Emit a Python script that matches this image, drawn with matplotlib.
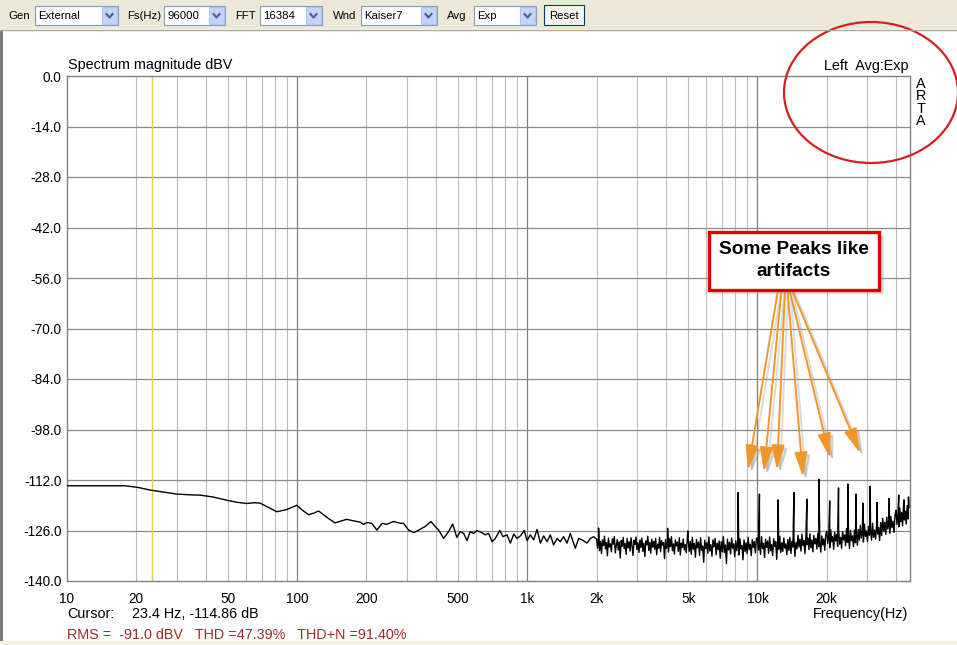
import numpy as np
import matplotlib.pyplot as plt
from matplotlib.patches import Rectangle, Ellipse, FancyArrowPatch
from matplotlib.lines import Line2D

plt.rcParams['font.family'] = ['Liberation Sans', 'DejaVu Sans']

# --- spectrum (Hz, dBV) ---
# smooth low frequency part
smooth_freq = [10, 14, 17.9, 20.5, 23.0, 26, 30.0, 34, 37.9, 43, 49.4, 55, 60.4, 65,
               69.0, 75, 81.6, 90, 99.7, 105, 112, 118, 124, 135, 146, 155, 164, 175, 182]
smooth_db = [-113.6, -113.6, -113.6, -114.1, -114.8, -115.3, -115.9, -116.1, -116.2,
             -116.7, -117.6, -118.2, -118.5, -118.3, -118.4, -119.6, -120.8, -120.2,
             -119.0, -120.3, -121.6, -121.2, -120.6, -122.4, -123.9, -123.4, -122.9,
             -123.3, -123.5]

# wiggly part 190 Hz - 2 kHz
sparse_freq = [188, 194, 201, 211, 222, 234, 245, 262, 281, 290, 305, 321, 337, 360, 381,
               398, 412, 433, 455, 474, 494, 511, 529, 547, 565, 584, 604, 635, 656, 679,
               703, 726, 759, 784, 816, 844, 873, 902, 933, 970, 997, 1031, 1066, 1102,
               1140, 1178, 1218, 1259, 1301, 1346, 1391, 1438, 1487, 1537, 1617, 1672,
               1728, 1818, 1880, 1943]
sparse_db = [-123.7, -124.3, -123.8, -124.0, -125.9, -124.0, -124.3, -123.5, -124.0, -124.0,
             -125.9, -126.6, -125.9, -124.9, -123.5, -124.9, -125.9, -128.2, -126.3, -124.2,
             -127.9, -126.3, -126.8, -128.8, -126.3, -126.8, -126.0, -126.6, -127.2, -126.8,
             -129.1, -128.2, -126.0, -127.7, -127.2, -129.5, -127.0, -128.2, -127.5, -126.0,
             -128.8, -127.2, -128.6, -125.7, -129.5, -127.5, -129.1, -127.2, -130.0, -128.2,
             -129.1, -127.7, -129.5, -126.8, -130.9, -128.2, -128.6, -129.5, -128.2, -127.7]

# dense noise floor above 2 kHz, one value per screen pixel in each band
band_edges = [2000, 5000, 10000, 15000, 20000, 28000, 35000, 40000, 46000]
noise_2k_5k = [
    -128.4, -130.9, -127.9, -131.6, -129.0, -132.4, -128.6, -130.2, -127.6, -131.1,
    -129.3, -133.0, -128.1, -130.6, -129.7, -131.9, -128.3, -129.8, -127.7, -132.2,
    -130.1, -128.5, -131.4, -129.2, -133.6, -128.8, -130.4, -127.9, -131.0, -129.6,
    -132.6, -128.2, -130.8, -129.1, -131.7, -128.0, -130.3, -132.9, -128.7, -129.9,
    -127.8, -131.3, -129.4, -132.1, -128.6, -130.7, -128.1, -131.8, -129.5, -133.2,
    -128.9, -130.0, -127.6, -131.5, -129.3, -132.3, -128.4, -130.6, -129.0, -131.2,
    -128.2, -132.7, -129.8, -130.9, -127.9, -131.9, -128.8, -130.1, -129.4, -133.8,
    -128.5, -131.0, -129.1, -132.0, -128.3, -130.5, -127.7, -131.6, -129.7, -132.5,
    -128.6, -130.3, -129.2, -131.8, -128.0, -132.8, -129.5, -130.7, -128.4, -131.4,
    -129.9, -132.2, -128.7]
noise_5k_10k = [
    -128.3, -131.8, -129.0, -132.6, -127.9, -131.2, -129.6, -133.4, -128.5, -130.8,
    -129.2, -132.9, -128.0, -131.5, -130.3, -134.8, -128.7, -131.0, -129.4, -132.3,
    -127.8, -131.7, -129.9, -133.1, -128.6, -130.5, -128.2, -132.7, -129.5, -131.3,
    -128.9, -133.7, -129.1, -131.9, -127.7, -132.1, -130.0, -135.2, -128.4, -131.4,
    -129.3, -132.5, -128.1, -130.9, -129.7, -133.3, -128.8, -131.6, -129.0, -132.8,
    -128.3, -131.1, -130.2, -134.1, -128.6, -131.8, -129.4, -132.4, -127.9, -131.3,
    -129.8, -133.0, -128.5, -130.7, -129.1, -132.2, -128.2]
noise_10k_15k = [
    -128.0, -131.4, -129.2, -132.6, -127.7, -131.0, -129.6, -133.5, -128.4, -130.7,
    -128.9, -132.3, -127.8, -131.6, -129.9, -132.9, -128.3, -130.4, -129.1, -134.0,
    -128.6, -131.2, -127.6, -132.1, -129.4, -131.8, -128.1, -130.9, -129.7, -132.7,
    -128.5, -131.5, -127.9, -132.4, -129.0, -130.6, -128.2, -133.2, -129.3, -131.1]
noise_15k_20k = [
    -127.3, -130.6, -128.4, -131.7, -127.0, -130.2, -128.8, -132.4, -127.6, -129.9,
    -128.1, -131.3, -126.9, -130.8, -128.6, -131.9, -127.4, -129.7, -128.2, -131.1,
    -126.8, -130.4, -128.9, -132.0, -127.5, -130.0, -128.3, -131.5, -127.1]
noise_20k_28k = [
    -126.2, -129.6, -127.4, -130.8, -125.8, -129.1, -127.7, -131.2, -126.5, -128.9,
    -127.1, -130.4, -125.6, -129.8, -127.9, -130.9, -126.3, -128.6, -127.2, -130.2,
    -125.5, -129.3, -126.8, -131.0, -126.0, -128.8, -127.5, -130.5, -125.9, -129.4,
    -126.6, -130.1, -125.7, -128.7]
noise_28k_35k = [
    -124.6, -128.1, -125.8, -129.2, -124.2, -127.6, -126.1, -129.0, -124.9, -127.3,
    -125.4, -128.7, -124.0, -127.9, -125.9, -128.4, -124.5, -127.0, -125.2, -128.8,
    -123.8, -127.4]
noise_35k_40k = [
    -122.6, -126.2, -123.7, -127.1, -122.3, -125.6, -123.9, -126.8, -122.1, -125.2,
    -123.4, -126.5, -121.8]
noise_40k_46k = [
    -120.4, -124.3, -121.5, -125.0, -119.8, -123.6, -121.0, -124.7, -119.4, -123.1,
    -120.6, -124.2, -119.1, -122.8, -119.6]

# spikes sticking out of the noise floor
peak_freq = [2040, 4070, 4980, 8240, 10200, 12300, 14400, 16400, 18500, 20600, 22500,
             24700, 26800, 28700, 30900, 33100, 37300, 41100, 43300, 45300]
peak_db = [-125.3, -125.4, -126.1, -115.5, -115.9, -117.5, -115.5, -117.3, -111.8, -117.8,
           -114.2, -113.1, -115.9, -118.4, -113.7, -118.2, -117.1, -116.2, -117.5, -116.7]

cursor_hz = 23.4
y_ticks = [-140, -126, -112, -98, -84, -70, -56, -42, -28, -14, 0]
x_ticks = [10, 20, 50, 100, 200, 500, 1000, 2000, 5000, 10000, 20000]
x_tick_labels = ['10', '20', '50', '100', '200', '500', '1k', '2k', '5k', '10k', '20k']

# put the trace together
noise_bands = [noise_2k_5k, noise_5k_10k, noise_10k_15k, noise_15k_20k,
               noise_20k_28k, noise_28k_35k, noise_35k_40k, noise_40k_46k]
freq = list(smooth_freq) + list(sparse_freq) + list(peak_freq)
db = list(smooth_db) + list(sparse_db) + list(peak_db)
for i, vals in enumerate(noise_bands):
    f = np.geomspace(band_edges[i], band_edges[i + 1], len(vals), endpoint=False)
    freq += list(f)
    db += vals
order = np.argsort(freq)
freq = np.array(freq)[order]
db = np.array(db)[order]

W, H = 957, 645
fig = plt.figure(figsize=(W / 100, H / 100), dpi=100)
fig.patch.set_facecolor('white')

TXT = 10.4   # label text size
TICK = 9.8   # tick label size
BAR = 8.2    # toolbar text size


def box(x0, y0, x1, y1, **kw):
    r = Rectangle((x0 / W, 1 - y1 / H), (x1 - x0) / W, (y1 - y0) / H,
                  transform=fig.transFigure, **kw)
    fig.add_artist(r)
    return r


def txt(x, y, s, **kw):
    kw.setdefault('va', 'center')
    return fig.text(x / W, 1 - y / H, s, **kw)


def seg(xs, ys, **kw):
    fig.add_artist(Line2D([x / W for x in xs], [1 - y / H for y in ys],
                          transform=fig.transFigure, **kw))


# window chrome: toolbar on top
box(0, 0, W, 29, facecolor='#ECE9D8', edgecolor='none')
seg([0, W], [29.5, 29.5], color='#ACA899', lw=1)
box(0, 30, 2.5, 641, facecolor='#7A7A7A', edgecolor='none')
box(0, 641, W, H, facecolor='#F1EFE2', edgecolor='none')

controls = [('Gen', 8, 35, 118, 'External'),
            ('Fs(Hz)', 127, 164, 225, '96000'),
            ('FFT', 235, 260, 322, '16384'),
            ('Wnd', 333, 361, 437, 'Kaiser7'),
            ('Avg', 447, 474, 536, 'Exp')]
for label, lx, x0, x1, value in controls:
    txt(lx, 16, label, size=BAR)
    box(x0, 6, x1, 25, facecolor='white', edgecolor='#7F9DB9', lw=0.8)
    box(x1 - 16, 7, x1 - 1, 24, facecolor='#C3D3FD', edgecolor='#B1C4F2', lw=0.8)
    cx = x1 - 8.5
    seg([cx - 3, cx, cx + 3], [14, 17.5, 14], color='#4D6185', lw=1.5)
    txt(x0 + 3, 16, value, size=BAR)
box(544, 5, 584, 25, facecolor='#F6F5F0', edgecolor='#003C74', lw=0.8)
txt(564, 16, 'Reset', size=BAR, ha='center')

# plot area
ax = fig.add_axes([67 / W, 1 - 581 / H, (910 - 67) / W, (581 - 76) / H])
ax.set_xscale('log')
ax.set_xlim(10, 46000)
ax.set_ylim(-140, 0)

for d in [10, 100, 1000, 10000]:
    for m in range(2, 10):
        if d * m < 46000:
            ax.axvline(d * m, color='#BDBDBD', lw=0.8, zorder=1)
for d in [100, 1000, 10000]:
    ax.axvline(d, color='#808080', lw=0.9, zorder=1)
for v in y_ticks[1:-1]:
    ax.axhline(v, color='#8A8A8A', lw=0.9, zorder=1)

ax.axvline(cursor_hz, color='#E2CF55', lw=1, zorder=2)
ax.plot(freq, db, color='black', lw=1.0, zorder=3)

ax.set_yticks(y_ticks)
ax.set_yticklabels([f'{v:.1f}' for v in y_ticks])
ax.set_xticks(x_ticks)
ax.set_xticklabels(x_tick_labels)
ax.xaxis.set_minor_locator(plt.NullLocator())
ax.tick_params(axis='both', length=0, labelsize=TICK)
ax.tick_params(axis='x', pad=8)
ax.tick_params(axis='y', pad=4)
for sp in ax.spines.values():
    sp.set_color('#808080')
    sp.set_linewidth(1)

# texts around the plot
txt(68, 65, 'Spectrum magnitude dBV', size=TXT)
txt(909, 66, 'Left  Avg:Exp', size=TXT, ha='right')
txt(921, 102.5, 'A\nR\nT\nA', size=TXT, ha='center', multialignment='center',
    linespacing=0.82)
txt(908, 614, 'Frequency(Hz)', size=TXT, ha='right')
txt(67, 614, 'Cursor:', size=TXT)
txt(132, 614, '23.4 Hz, -114.86 dB', size=TXT)
txt(67, 635, 'RMS =  -91.0 dBV   THD =47.39%   THD+N =91.40%', size=TXT,
    color='#9B2D2D')

# red ellipse in the top right
fig.add_artist(Ellipse((871 / W, 1 - 92.5 / H), 174 / W, 141 / H,
                       transform=fig.transFigure, fill=False,
                       edgecolor='#D42020', lw=1.6))

# callout with arrows
arrow_from = [(778, 290), (781.5, 290), (785, 290), (787.5, 290), (789.5, 290), (792, 290)]
arrow_to = [(748, 470), (764, 472), (777, 470), (803, 477), (830, 458), (860, 453)]
for (xa, ya), (xb, yb) in zip(arrow_from, arrow_to):
    for dx, col, a in [(3, '#9A9A9A', 0.35), (0, '#F0962A', 1.0)]:
        fig.add_artist(FancyArrowPatch(((xa + dx) / W, 1 - (ya + dx) / H),
                                       ((xb + dx) / W, 1 - (yb + dx) / H),
                                       transform=fig.transFigure,
                                       arrowstyle='-|>,head_length=1.5,head_width=0.4',
                                       mutation_scale=10, color=col, alpha=a,
                                       lw=1.4, shrinkA=0, shrinkB=0))
box(712, 236, 884, 294, facecolor='#9A9A9A', edgecolor='none', alpha=0.35)
box(709, 232, 879, 290, facecolor='white', edgecolor='#E00000', lw=2.4)
txt(794, 250, 'Some Peaks like', size=13.8, weight='bold', ha='center')
txt(794, 271.5, 'artifacts', size=13.8, weight='bold', ha='center')

fig.savefig('out.png', dpi=100)
